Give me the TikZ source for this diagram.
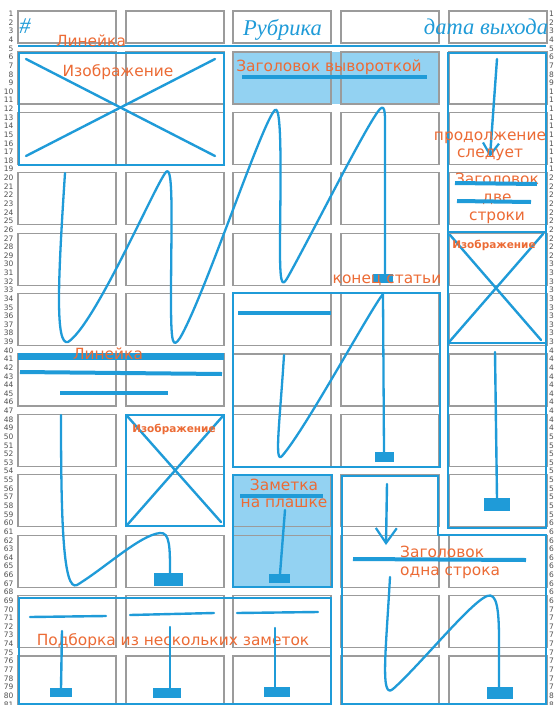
\documentclass[tikz,border=0pt]{standalone}
\usepackage{fontspec}
\setmainfont{DejaVu Sans}
\newfontfamily\hdrfont{Liberation Serif}
\usetikzlibrary{arrows.meta}
\definecolor{myblue}{HTML}{1F9BD8}
\definecolor{lightfill}{HTML}{93D2F2}
\definecolor{myorange}{HTML}{EC6B35}
\definecolor{gridgray}{HTML}{9B9B9B}
\definecolor{numgray}{HTML}{505050}
\tikzset{
  gbox/.style={draw=gridgray, line width=1.2pt},
  bl/.style={draw=myblue, line width=2.8pt},
  thin/.style={draw=myblue, line width=2.4pt, line cap=round},
  thick/.style={draw=myblue, line width=4pt},
  curve/.style={draw=myblue, line width=2.3pt, line cap=round, line join=round},
  blk/.style={fill=myblue},
  otext/.style={text=myorange, font=\fontsize{15.4}{18.5}\selectfont, inner sep=0pt, anchor=base, align=center},
  osmall/.style={text=myorange, font=\bfseries\fontsize{10.5}{12}\selectfont, inner sep=0pt, anchor=base},
  htext/.style={text=myblue, font=\hdrfont\itshape\fontsize{22.5}{26}\selectfont, inner sep=0pt, anchor=base},
  num/.style={text=numgray, font=\fontsize{7.5}{8}\selectfont, inner sep=0pt},
  barbA/.style={-{Straight Barb[length=12pt,width=16pt,line width=2.2pt]}},
  barbB/.style={-{Straight Barb[length=15pt,width=21pt,line width=2.2pt]}},
}
\begin{document}
\begin{tikzpicture}[x=1pt,y=-1pt]
\useasboundingbox (0,0) rectangle (554,705);
\clip (0,0) rectangle (554,705);
\fill[white] (0,0) rectangle (554,705);
% light fills
\fill[lightfill] (233,52) rectangle (439,104);
\fill[lightfill] (233,475) rectangle (332,587);
% gray grid
\foreach \cx in {18,126,233,341,449}{
  \draw[gbox] (\cx,11) rectangle ++(98,32);
  \foreach \k in {0,...,10}{
    \draw[gbox] (\cx,{52+60.4*\k}) rectangle ++(98,52);
  }
}
% line numbers
\foreach \n in {1,...,81}{
  \node[num, anchor=east] (ln\n) at (13.5,{48.4+(\n-5)*8.63}) {\n};
  \node[num, anchor=west] (rn\n) at (549,{48.4+(\n-5)*8.63}) {\n};
}
% header
\draw[myblue, line width=2.5pt] (18,46) -- (546,46);
\node[htext] (hash) at (25,33) {\#};
\node[htext] (rubr) at (282.5,35) {Рубрика};
\node[htext] (date) at (486,34) {дата выхода};
\node[otext] (lin1) at (91,46) {Линейка};
% big image
\draw[bl] (19,53) rectangle (224,165);
\draw[thin] (26,59) -- (215,156);
\draw[thin] (26,156) -- (215,59);
\node[otext] (img1) at (118,76) {Изображение};
% vyvorotka
\node[otext] (vyv) at (329,71) {Заголовок вывороткой};
\draw[thick, line width=4.5pt] (242,77) -- (427,77);
% right column
\draw[bl] (448,53) rectangle (546,528);
\draw[thin, barbA] (497,59) -- (490,157);
\node[otext] (prod) at (490,140) {продолжение};
\node[otext] (sled) at (490,157) {следует};
\node[otext] (zag2a) at (497,184) {Заголовок};
\node[otext] (zag2b) at (497,202) {две};
\node[otext] (zag2c) at (497,220) {строки};
\draw[thick] (455,183) -- (537,184);
\draw[thick] (457,201) -- (531,202);
\draw[bl] (448,232) rectangle (546,343);
\draw[thin] (450,235) -- (541,340);
\draw[thin] (450,341) -- (543,234);
\node[osmall] (img3) at (494,248) {Изображение};
\draw[thin] (495,352) -- (497,498);
\fill[blk] (484,498) rectangle (510,511);
% serpentine article
\draw[curve] (65,173) .. controls (58,280) and (55,346) .. (68,342)
  .. controls (95,325) and (155,185) .. (166,172)
  .. controls (174,163) and (171,230) .. (171,300)
  .. controls (171,346) and (173,348) .. (180,338)
  .. controls (205,295) and (262,122) .. (275,110)
  .. controls (283,103) and (280,200) .. (280,250)
  .. controls (280,290) and (283,286) .. (289,275)
  .. controls (315,228) and (368,122) .. (380,109)
  .. controls (386,103) and (385,118) .. (385,135)
  -- (385,276);
\fill[blk] (373,274) rectangle (393,283);
\node[otext] (kon) at (387,283) {конец статьи};
% article box col3-4
\draw[bl] (233,293) rectangle (440,467);
\draw[thick, line width=3.5pt] (238,313) -- (331,313);
\draw[curve] (284,355) .. controls (280,420) and (274,465) .. (282,456)
  .. controls (305,430) and (370,310) .. (383,294) -- (384,452);
\fill[blk] (375,452) rectangle (394,462);
% left lineika
\fill[myblue] (18,353) rectangle (224,360);
\node[otext] (lin2) at (108,359) {Линейка};
\draw[thick] (20,372) -- (222,374);
\draw[thick] (60,393) -- (168,393);
% col2 image
\draw[bl] (126,415) rectangle (224,526);
\draw[thin] (128,417) -- (221,522);
\draw[thin] (128,524) -- (222,417);
\node[osmall] (img2) at (174,432) {Изображение};
% col1 article
\draw[curve] (61,415) .. controls (61,520) and (63,592) .. (77,585)
  .. controls (105,568) and (140,535) .. (160,533)
  .. controls (170,532) and (170,548) .. (170,573);
\fill[blk] (154,573) rectangle (183,586);
% plashka
\draw[bl] (233,475) rectangle (332,587);
\node[otext] (zam1) at (284,490) {Заметка};
\node[otext] (zam2) at (284,507) {на плашке};
\draw[thick, line width=3.5pt] (240,496) -- (323,496);
\draw[thin] (285,510) -- (280,574);
\fill[blk] (269,574) rectangle (290,583);
% L-box
\draw[bl] (342,704) -- (342,476) -- (438,476) -- (438,535) -- (546,535) -- (546,704) -- cycle;
\draw[thin, barbB] (387,484) -- (386,545);
\draw[thick] (353,559) -- (526,560);
\node[otext, anchor=base west] (zag1a) at (400,557) {Заголовок};
\node[otext, anchor=base west] (zag1b) at (400,575) {одна строка};
\draw[curve] (390,577) .. controls (386,650) and (380,700) .. (393,689)
  .. controls (420,665) and (470,603) .. (487,596)
  .. controls (497,592) and (499,610) .. (499,640) -- (499,687);
\fill[blk] (487,687) rectangle (513,699);
% podborka
\draw[bl] (19,598) rectangle (331,704);
\draw[thin] (30,617) -- (106,616);
\draw[thin] (130,615) -- (214,613);
\draw[thin] (237,613) -- (318,612);
\node[otext] (podb) at (173,645) {Подборка из нескольких заметок};
\draw[thin] (62,631) -- (61,688);
\fill[blk] (50,688) rectangle (72,697);
\draw[thin] (170,627) -- (170,688);
\fill[blk] (153,688) rectangle (181,698);
\draw[thin] (275,628) -- (275,688);
\fill[blk] (264,687) rectangle (290,697);
\end{tikzpicture}
\end{document}
